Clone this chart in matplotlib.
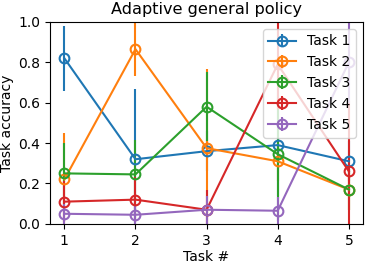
import numpy as np
import matplotlib
matplotlib.use("Agg")
import matplotlib.pyplot as plt

tasks = [1, 2, 3, 4, 5]
labels = ["Task 1", "Task 2", "Task 3", "Task 4", "Task 5"]

# mean accuracy per evaluation point, one list per task
acc_task1 = [0.82, 0.32, 0.36, 0.39, 0.31]
acc_task2 = [0.22, 0.865, 0.375, 0.31, 0.17]
acc_task3 = [0.25, 0.245, 0.58, 0.345, 0.17]
acc_task4 = [0.11, 0.12, 0.07, 0.79, 0.26]
acc_task5 = [0.05, 0.045, 0.07, 0.065, 0.80]

# error bar half-widths
err_task1 = [0.16, 0.35, 0.10, 0.25, 0.10]
err_task2 = [0.23, 0.135, 0.39, 0.10, 0.10]
err_task3 = [0.15, 0.17, 0.17, 0.33, 0.10]
err_task4 = [0.10, 0.11, 0.10, 0.22, 0.35]
err_task5 = [0.05, 0.05, 0.07, 0.07, 0.20]

accs = [acc_task1, acc_task2, acc_task3, acc_task4, acc_task5]
errs = [err_task1, err_task2, err_task3, err_task4, err_task5]

fig = plt.figure(figsize=(3.66, 2.64), dpi=100)
ax = fig.add_axes([0.137, 0.152, 0.855, 0.765])

for acc, err, lab in zip(accs, errs, labels):
    ax.errorbar(tasks, acc, yerr=err, marker='o', fillstyle='none',
                markersize=7, markeredgewidth=1.5, label=lab)

ax.set_ylim(0, 1)
ax.set_xticks(tasks)
ax.set_title("Adaptive general policy", fontsize=11.6)
ax.set_xlabel("Task #", labelpad=2)
ax.set_ylabel("Task accuracy", labelpad=3)
ax.legend(loc='upper right')

fig.savefig("out.png", dpi=100)
